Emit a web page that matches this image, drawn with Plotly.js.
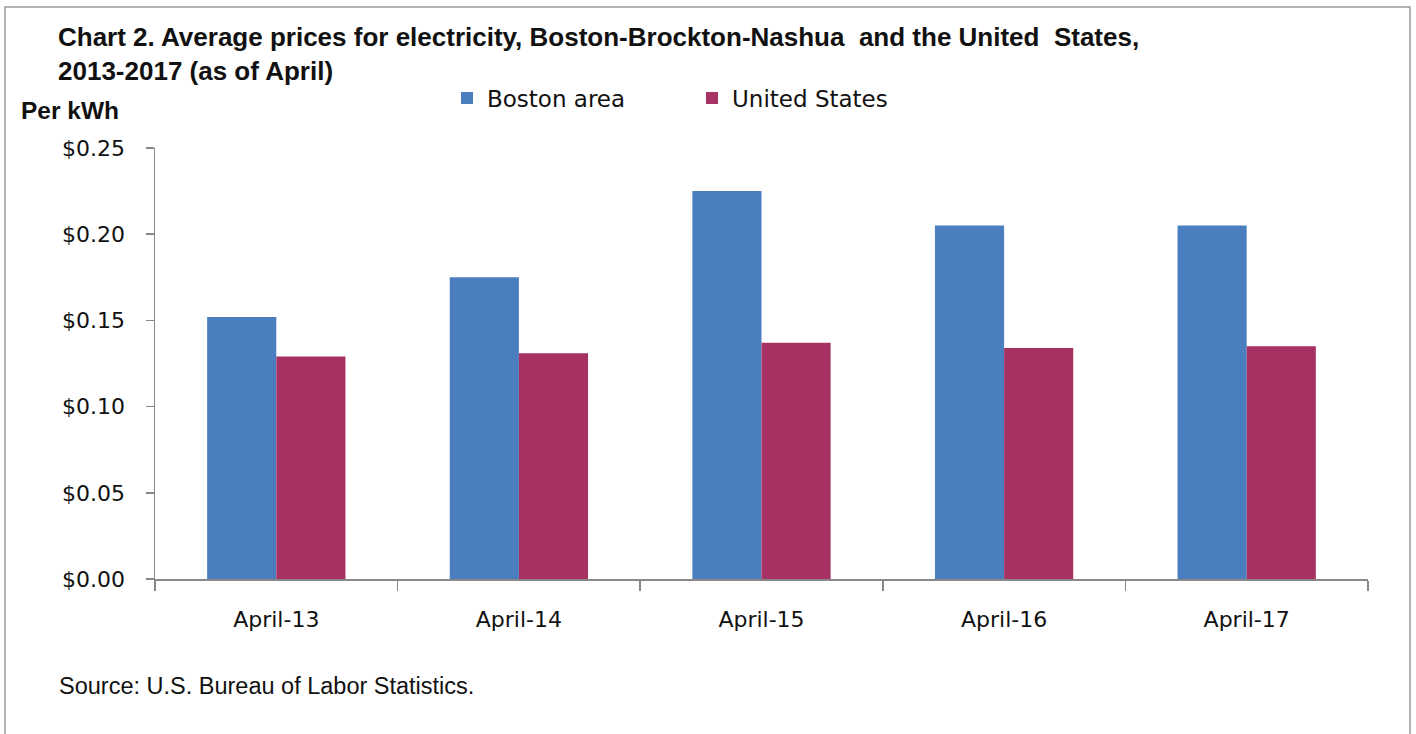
<!DOCTYPE html>
<html>
<head>
<meta charset="utf-8">
<script src="https://cdn.plot.ly/plotly-3.0.1.min.js"></script>
<style>html,body{margin:0;padding:0;background:#fff;}#chart{width:1416px;height:734px;}</style>
</head>
<body>
<div id="chart"></div>
<script>
const categories = ["April-13", "April-14", "April-15", "April-16", "April-17"];
const bostonArea = [0.152, 0.175, 0.225, 0.205, 0.205];
const unitedStates = [0.129, 0.131, 0.137, 0.134, 0.135];
const seriesNames = ["Boston area", "United States"];

const W = 1416, H = 734;
const L = 155, R = 48, T = 148, B = 155;
const pw = W - L - R, ph = H - T - B;
const px = x => (x - L) / pw;
const py = y => (H - B - y) / ph;

const sans = '"Liberation Sans", Arial, sans-serif';
const tickFont = '"DejaVu Sans", Verdana, sans-serif';

const data = [
  {type: 'bar', name: seriesNames[0], x: categories, y: bostonArea,
   marker: {color: '#4A7EBF', line: {width: 0}}},
  {type: 'bar', name: seriesNames[1], x: categories, y: unitedStates,
   marker: {color: '#A83163', line: {width: 0}}}
];

const layout = {
  width: W, height: H,
  margin: {l: L, r: R, t: T, b: B, pad: 0},
  paper_bgcolor: '#fff', plot_bgcolor: '#fff',
  barmode: 'group', bargap: 0.43, bargroupgap: 0,
  showlegend: true,
  legend: {orientation: 'h', x: px(447), y: py(98), xanchor: 'left', yanchor: 'middle',
           font: {family: tickFont, size: 23, color: '#111'}, traceorder: 'normal',
           itemwidth: 30, entrywidth: 200, bgcolor: 'rgba(0,0,0,0)'},
  xaxis: {type: 'category', showline: true, linecolor: '#888', linewidth: 1.5,
          ticks: 'outside', tickson: 'boundaries', ticklen: 10, tickcolor: '#888', tickwidth: 1.5,
          ticklabelstandoff: 20,
          tickfont: {family: tickFont, size: 22, color: '#111'}, showgrid: false, zeroline: false,
          fixedrange: true},
  yaxis: {range: [0, 0.25], dtick: 0.05, tickformat: '$.2f', showline: true, linecolor: '#888',
          linewidth: 1.5, ticks: 'outside', ticklen: 8, tickcolor: '#888', tickwidth: 1.5,
          ticklabelstandoff: 16,
          tickfont: {family: tickFont, size: 22, color: '#111'}, showgrid: false, zeroline: false,
          fixedrange: true},
  shapes: [
    {type: 'rect', xref: 'paper', yref: 'paper', x0: px(5), x1: px(1410), y0: py(745), y1: py(7),
     line: {color: '#999', width: 1.5}, fillcolor: 'rgba(0,0,0,0)', layer: 'below'}
  ],
  annotations: [
    {xref: 'paper', yref: 'paper', x: px(56), y: py(20), xanchor: 'left', yanchor: 'top', align: 'left',
     showarrow: false, text: '<b>Chart 2. Average prices for electricity, Boston-Brockton-Nashua  and the United  States,</b><br><b>2013-2017 (as of April)</b>',
     font: {family: sans, size: 26, color: '#111'}},
    {xref: 'paper', yref: 'paper', x: px(19), y: py(110), xanchor: 'left', yanchor: 'middle',
     showarrow: false, text: '<b>Per kWh</b>', font: {family: sans, size: 24.5, color: '#111'}},
    {xref: 'paper', yref: 'paper', x: px(57), y: py(686), xanchor: 'left', yanchor: 'middle',
     showarrow: false, text: 'Source: U.S. Bureau of Labor Statistics.', font: {family: sans, size: 23.5, color: '#111'}}
  ]
};

Plotly.newPlot('chart', data, layout, {staticPlot: true, displayModeBar: false});
</script>
</body>
</html>
